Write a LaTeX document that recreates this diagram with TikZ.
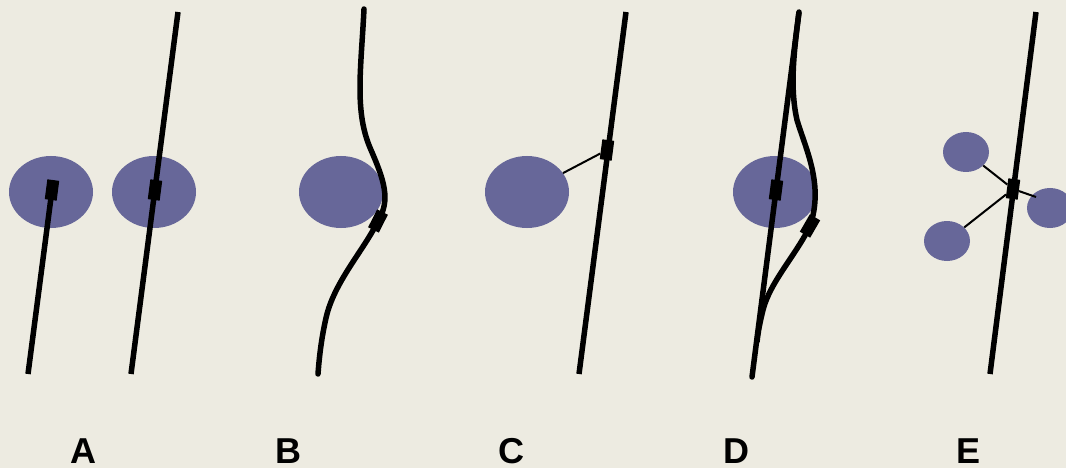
\documentclass[tikz,border=0pt]{standalone}
\usepackage{fontspec}
\setmainfont{Liberation Sans}
\usetikzlibrary{shapes.geometric}
\definecolor{paper}{HTML}{EDEBE1}
\definecolor{cellfill}{HTML}{676799}
\begin{document}
\begin{tikzpicture}[x=1pt,y=-1pt,
  cellbody/.style={ellipse, fill=cellfill, draw=none, minimum width=84pt, minimum height=72pt, inner sep=0pt},
  smallcell/.style={cellbody, minimum width=46pt, minimum height=40pt},
  chain/.style={line width=5.5pt},
  anchorbox/.style={rectangle, fill=black, draw=none, minimum width=12pt, minimum height=20pt, inner sep=0pt},
  tether/.style={line width=2pt},
  letter/.style={font=\fontsize{36}{36}\selectfont\bfseries, inner sep=0pt}]

% background
\fill[paper] (0,0) rectangle (1066,468);
\useasboundingbox (0,0) rectangle (1066,468);
\clip (0,0) rectangle (1066,468);

% ---------- cells ----------
\node[cellbody] (cA1) at (51,192) {};
\node[cellbody] (cA2) at (154,192) {};
\node[cellbody] (cB)  at (341,192) {};
\node[cellbody] (cC)  at (527,192) {};
\node[cellbody] (cD)  at (775,192) {};
\node[smallcell] (cE1) at (966,152) {};
\node[smallcell] (cE2) at (1050,208) {};
\node[smallcell] (cE3) at (947,241) {};

% ---------- free ends of the strands ----------
\coordinate (a1bot) at (28,374);
\coordinate (a2bot) at (131,374);
\coordinate (a2top) at (178,12);
\coordinate (btop)  at (364,9);
\coordinate (bbot)  at (318,374);
\coordinate (cbot)  at (579,374);
\coordinate (ctop)  at (626,12);
\coordinate (dbot)  at (752,377);
\coordinate (dtop)  at (799,12);
\coordinate (ebot)  at (990,374);
\coordinate (etop)  at (1036,12);

% ---------- A ----------
\draw[chain] (a1bot) -- (52,190);
\node[anchorbox, rotate=-7.4] (a1box) at (52,190) {};
\draw[chain] (a2bot) -- (a2top);
\node[anchorbox, rotate=-7.4] (a2box) at (155,190) {};

% ---------- B ----------
\node[anchorbox, rotate=-27] (bbox) at (378,221) {};
\draw[chain, line cap=round] (btop)
  .. controls (361,70) and (354,112) .. (371,150)
  .. controls (384,180) and (391,200) .. (bbox.center)
  .. controls (364,250) and (334,282) .. (326,318)
  .. controls (321,340) and (319,360) .. (bbot);

% ---------- C ----------
\draw[chain] (cbot) -- (ctop);
\node[anchorbox, rotate=-7.4] (cbox) at (607,150) {};
\draw[tether] (cC) -- (cbox);

% ---------- D ----------
\draw[chain, line cap=round] (dbot) -- (dtop);
\node[anchorbox, rotate=-7.4] (dbox1) at (776,190) {};
\node[anchorbox, rotate=-30] (dbox2) at (810,226) {};
\draw[chain] (dtop)
  .. controls (795,45) and (789,85) .. (797,120)
  .. controls (806,150) and (824,185) .. (dbox2.center)
  .. controls (796,255) and (770,282) .. (763,310)
  .. controls (760,322) and (758,332) .. (757,342);

% ---------- E ----------
\draw[chain] (ebot) -- (etop);
\node[anchorbox, rotate=-7.4] (ebox) at (1013,189) {};
\draw[tether] (cE1) -- (ebox);
\draw[tether] (cE3) -- (ebox);
\draw[tether] (ebox) -- (1036,197);

% ---------- labels ----------
\node[letter] (lA) at (83,451) {A};
\node[letter] (lB) at (288,451) {B};
\node[letter] (lC) at (511,451) {C};
\node[letter] (lD) at (736,451) {D};
\node[letter] (lE) at (968,451) {E};
\end{tikzpicture}
\end{document}
